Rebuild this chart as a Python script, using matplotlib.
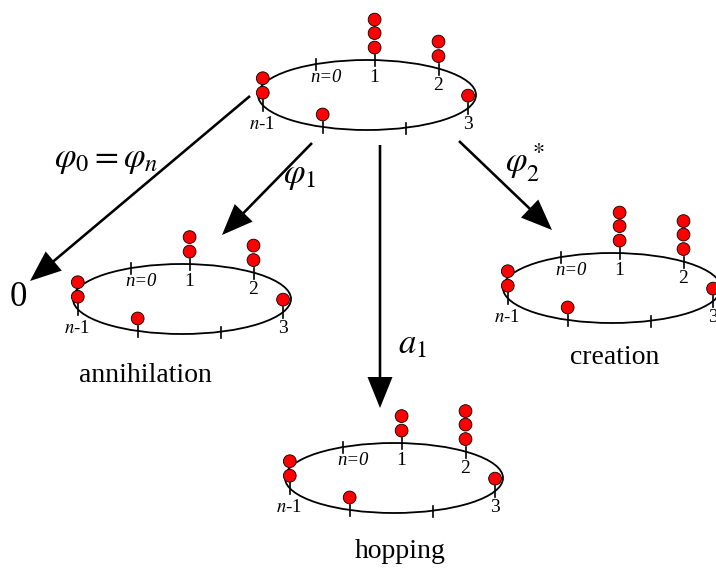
import numpy as np
import matplotlib.pyplot as plt
from matplotlib.patches import Ellipse

plt.rcParams['mathtext.fontset'] = 'stix'
plt.rcParams['font.family'] = ['Liberation Serif', 'DejaVu Serif']

# sites around the ring, going clockwise from n=0
site_labels = ['n=0', '1', '2', '3', '', '', 'n-1']
occ_start = [0, 3, 2, 1, 0, 1, 2]
occ_annihilation = [0, 2, 2, 1, 0, 1, 2]
occ_creation = [0, 3, 3, 1, 0, 1, 2]
occ_hopping = [0, 2, 3, 1, 0, 1, 2]
captions = ['', 'annihilation', 'creation', 'hopping']
operators = [r'$\varphi_{\mathit{0}} = \varphi_n$', r'$\varphi_1$', r'$\varphi_2^*$', r'$a_1$']

# layout (pixel coords)
site_angles = np.radians([118, 86, 49, -22, -69, -114, -163])
label_offsets = [(10, 13), (0, 17), (0, 17), (0, 16), (0, 0), (0, 0), (-1, 19)]
ring_centers = [(367, 95), (182, 299), (612, 288), (394, 478)]
caption_pos = [None, (145, 376), (615, 358), (400, 552)]
RA, RB = 109, 35
DOT_R = 6.4
DOT_STEP = 13.5

fig = plt.figure(figsize=(7.16, 5.68), dpi=100)
ax = fig.add_axes([0, 0, 1, 1])
ax.set_xlim(0, 716)
ax.set_ylim(568, 0)
ax.set_aspect('equal')
ax.axis('off')


def draw_ring(center, occ, caption, cap_xy):
    cx, cy = center
    ax.add_patch(Ellipse((cx, cy), 2 * RA, 2 * RB, fill=False, lw=1.3, color='black'))
    for ang, n, lab, (ox, oy) in zip(site_angles, occ, site_labels, label_offsets):
        x = cx + RA * np.cos(ang)
        y = cy - RB * np.sin(ang)
        ax.plot([x, x], [y - 5, y + 6], color='black', lw=1.2)
        for k in range(n):
            ax.add_patch(plt.Circle((x, y - DOT_STEP * (k + 1) + (1 if k == 0 else 0)),
                                    DOT_R, facecolor='#ff0000', edgecolor='black',
                                    lw=0.6, zorder=3))
        if lab == 'n=0':
            ax.text(x + ox, y + oy, lab, fontsize=13.5, style='italic',
                    ha='center', va='center')
        elif lab == 'n-1':
            ax.text(x + ox, y + oy, r'$n$-1', fontsize=13.5, ha='center', va='center')
        elif lab:
            ax.text(x + ox, y + oy, lab, fontsize=14, ha='center', va='center')
    if caption:
        ax.text(cap_xy[0], cap_xy[1], caption, fontsize=20, ha='center', va='center')


for center, occ, cap, cxy in zip(ring_centers,
                                 [occ_start, occ_annihilation, occ_creation, occ_hopping],
                                 captions, caption_pos):
    draw_ring(center, occ, cap, cxy)

# arrows: start -> tip
arrows = [((250, 96), (30, 281)), ((312, 143), (222, 235)),
          ((380, 145), (380, 408)), ((459, 141), (552, 230))]
for (x0, y0), (x1, y1) in arrows:
    ax.arrow(x0, y0, x1 - x0, y1 - y0, width=2.6, head_width=25, head_length=31,
             length_includes_head=True, color='black', lw=0)

op_pos = [(106, 160), (300, 176), (525, 163), (412, 345)]
for txt, (x, y) in zip(operators, op_pos):
    ax.text(x, y, txt, fontsize=25, ha='center', va='center')

ax.text(18, 298, '0', fontsize=25, ha='center', va='center')

fig.savefig('out.png', dpi=100)
